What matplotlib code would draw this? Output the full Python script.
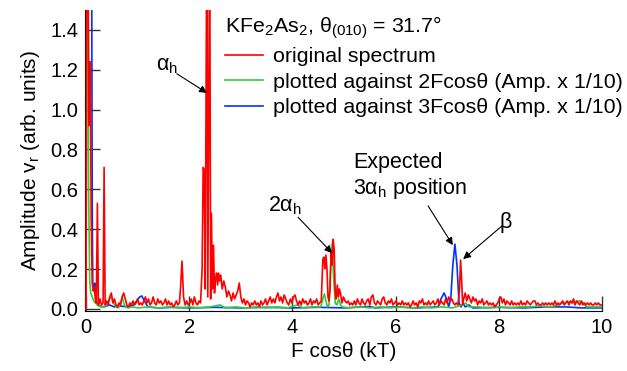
import numpy as np
import matplotlib
matplotlib.use("Agg")
import matplotlib.pyplot as plt

plt.rcParams['font.family'] = ['Liberation Sans', 'DejaVu Sans']
plt.rcParams['mathtext.fontset'] = 'custom'
plt.rcParams['mathtext.rm'] = 'Liberation Sans'
plt.rcParams['mathtext.it'] = 'Liberation Sans'

# original spectrum (x in kT, amplitude)
red_low = [(0.00, 0.00), (0.01, 1.60), (0.04, 1.60), (0.06, 0.92), (0.08, 1.24), (0.10, 0.45),
           (0.12, 0.13), (0.14, 0.09), (0.16, 0.11), (0.18, 0.05), (0.20, 0.03), (0.22, 0.53),
           (0.24, 0.02), (0.27, 0.05), (0.30, 0.02), (0.33, 0.03), (0.35, 0.71), (0.37, 0.02),
           (0.40, 0.04), (0.43, 0.02), (0.46, 0.06), (0.49, 0.08), (0.52, 0.03), (0.55, 0.05),
           (0.58, 0.02), (0.61, 0.01), (0.64, 0.03), (0.67, 0.02), (0.70, 0.06), (0.73, 0.08),
           (0.76, 0.05), (0.79, 0.02), (0.82, 0.01), (0.85, 0.03), (0.88, 0.02), (0.91, 0.04),
           (0.94, 0.02), (0.97, 0.03), (1.00, 0.05), (1.03, 0.02), (1.06, 0.03), (1.09, 0.02),
           (1.12, 0.04), (1.15, 0.06), (1.18, 0.03), (1.21, 0.05), (1.24, 0.02), (1.27, 0.03),
           (1.30, 0.06), (1.33, 0.03), (1.36, 0.02), (1.39, 0.05), (1.42, 0.03), (1.45, 0.04),
           (1.48, 0.02), (1.51, 0.03), (1.54, 0.05), (1.57, 0.02), (1.60, 0.04), (1.63, 0.02),
           (1.66, 0.03), (1.69, 0.01), (1.72, 0.02), (1.75, 0.04), (1.78, 0.02), (1.81, 0.03),
           (1.83, 0.10), (1.86, 0.24), (1.89, 0.06), (1.92, 0.02), (1.95, 0.04), (1.98, 0.02),
           (2.01, 0.03), (2.04, 0.05), (2.07, 0.02), (2.10, 0.06), (2.13, 0.03), (2.16, 0.02),
           (2.19, 0.04), (2.22, 0.03)]
red_alpha = [(2.25, 0.20), (2.27, 0.71), (2.29, 0.70), (2.31, 0.10), (2.335, 1.60), (2.345, 1.60),
             (2.36, 0.06), (2.39, 1.60), (2.40, 1.60), (2.415, 0.05), (2.43, 0.48), (2.45, 0.10),
             (2.47, 0.32), (2.49, 0.08), (2.51, 0.15), (2.53, 0.18), (2.55, 0.12), (2.57, 0.18),
             (2.59, 0.14), (2.61, 0.17), (2.64, 0.10), (2.67, 0.14), (2.70, 0.11), (2.73, 0.06),
             (2.76, 0.09), (2.79, 0.07), (2.82, 0.04), (2.85, 0.08), (2.88, 0.05), (2.91, 0.07),
             (2.94, 0.09), (2.97, 0.13)]
red_mid = [(3.00, 0.06), (3.03, 0.03), (3.06, 0.05), (3.09, 0.02), (3.12, 0.04), (3.15, 0.03),
           (3.18, 0.01), (3.21, 0.03), (3.24, 0.02), (3.27, 0.04), (3.30, 0.02), (3.33, 0.03),
           (3.36, 0.01), (3.39, 0.04), (3.42, 0.02), (3.45, 0.03), (3.48, 0.05), (3.51, 0.02),
           (3.54, 0.04), (3.57, 0.06), (3.60, 0.03), (3.63, 0.05), (3.66, 0.03), (3.69, 0.06),
           (3.72, 0.08), (3.75, 0.04), (3.78, 0.06), (3.81, 0.03), (3.84, 0.07), (3.87, 0.05),
           (3.90, 0.03), (3.93, 0.02), (3.96, 0.05), (3.99, 0.03), (4.02, 0.06), (4.05, 0.07),
           (4.08, 0.04), (4.11, 0.02), (4.14, 0.04), (4.17, 0.02), (4.20, 0.05), (4.23, 0.03),
           (4.26, 0.04), (4.29, 0.02), (4.32, 0.03), (4.35, 0.05), (4.38, 0.02), (4.41, 0.04),
           (4.44, 0.03), (4.47, 0.05), (4.50, 0.02), (4.53, 0.03), (4.56, 0.04)]
red_2alpha = [(4.59, 0.25), (4.61, 0.26), (4.63, 0.20), (4.65, 0.27), (4.67, 0.20), (4.69, 0.06),
              (4.71, 0.04), (4.73, 0.10), (4.75, 0.29), (4.77, 0.22), (4.79, 0.35), (4.81, 0.30),
              (4.83, 0.08), (4.85, 0.05), (4.87, 0.12), (4.89, 0.06), (4.91, 0.10), (4.93, 0.08)]
red_tail = [(4.96, 0.03), (4.99, 0.06), (5.02, 0.04), (5.05, 0.03), (5.08, 0.04), (5.11, 0.02),
            (5.14, 0.03), (5.17, 0.02), (5.20, 0.04), (5.23, 0.02), (5.26, 0.05), (5.29, 0.03),
            (5.32, 0.02), (5.35, 0.05), (5.38, 0.03), (5.41, 0.02), (5.44, 0.04), (5.47, 0.05),
            (5.50, 0.02), (5.53, 0.06), (5.56, 0.07), (5.59, 0.03), (5.62, 0.02), (5.65, 0.04),
            (5.68, 0.03), (5.71, 0.02), (5.74, 0.05), (5.77, 0.06), (5.80, 0.03), (5.83, 0.02),
            (5.86, 0.04), (5.89, 0.03), (5.92, 0.05), (5.95, 0.02), (5.98, 0.03), (6.01, 0.04),
            (6.04, 0.02), (6.07, 0.03), (6.10, 0.02), (6.13, 0.04), (6.16, 0.02), (6.19, 0.03),
            (6.22, 0.02), (6.25, 0.03), (6.28, 0.01), (6.31, 0.02), (6.34, 0.04), (6.37, 0.02),
            (6.40, 0.03), (6.43, 0.01), (6.46, 0.04), (6.49, 0.03), (6.52, 0.05), (6.55, 0.02),
            (6.58, 0.03), (6.61, 0.02), (6.64, 0.04), (6.67, 0.02), (6.70, 0.03), (6.73, 0.04),
            (6.76, 0.02), (6.79, 0.03), (6.82, 0.05), (6.85, 0.02), (6.88, 0.04), (6.91, 0.03),
            (6.94, 0.02), (6.97, 0.05), (7.00, 0.03), (7.03, 0.06), (7.06, 0.04), (7.09, 0.05),
            (7.12, 0.03), (7.15, 0.02), (7.18, 0.03), (7.21, 0.02)]
red_beta = [(7.24, 0.10), (7.26, 0.245), (7.28, 0.15), (7.30, 0.02), (7.32, 0.05), (7.35, 0.08),
            (7.38, 0.04), (7.41, 0.07), (7.44, 0.05), (7.47, 0.03), (7.50, 0.06), (7.53, 0.04),
            (7.56, 0.05), (7.59, 0.02), (7.62, 0.04), (7.65, 0.03), (7.68, 0.05), (7.71, 0.02),
            (7.74, 0.03), (7.77, 0.04), (7.80, 0.02), (7.83, 0.03), (7.86, 0.02), (7.89, 0.03),
            (7.92, 0.01), (7.95, 0.02), (7.98, 0.03)]
red_high = [(8.01, 0.05), (8.04, 0.06), (8.07, 0.03), (8.10, 0.05), (8.13, 0.02), (8.16, 0.04),
            (8.19, 0.03), (8.22, 0.02), (8.25, 0.04), (8.28, 0.02), (8.31, 0.03), (8.34, 0.02),
            (8.37, 0.03), (8.40, 0.02), (8.43, 0.04), (8.46, 0.02), (8.49, 0.03), (8.52, 0.02),
            (8.55, 0.04), (8.58, 0.03), (8.61, 0.02), (8.64, 0.03), (8.67, 0.04), (8.70, 0.04),
            (8.73, 0.02), (8.76, 0.03), (8.79, 0.02), (8.82, 0.02), (8.85, 0.03), (8.88, 0.02),
            (8.91, 0.03), (8.94, 0.02), (8.97, 0.03), (9.00, 0.02), (9.03, 0.03), (9.06, 0.02),
            (9.09, 0.04), (9.12, 0.02), (9.15, 0.03), (9.18, 0.02), (9.21, 0.03), (9.24, 0.04),
            (9.27, 0.02), (9.30, 0.03), (9.33, 0.04), (9.36, 0.02), (9.39, 0.04), (9.42, 0.03),
            (9.45, 0.05), (9.48, 0.02), (9.51, 0.04), (9.54, 0.03), (9.57, 0.02), (9.60, 0.04),
            (9.63, 0.02), (9.66, 0.03), (9.69, 0.02), (9.72, 0.03), (9.75, 0.02), (9.78, 0.03),
            (9.81, 0.02), (9.84, 0.02), (9.87, 0.03), (9.90, 0.02), (9.93, 0.03), (9.96, 0.02),
            (10.00, 0.02)]

# against 2Fcos(theta), amplitude x 1/10
green_pts = [(0.00, 0.00), (0.01, 1.60), (0.03, 1.60), (0.05, 0.60), (0.07, 0.15), (0.09, 0.08),
             (0.12, 0.06), (0.15, 0.04), (0.18, 0.03), (0.22, 0.02), (0.28, 0.01), (0.35, 0.01),
             (0.40, 0.02), (0.45, 0.05), (0.49, 0.06), (0.53, 0.03), (0.58, 0.01), (0.63, 0.005),
             (0.67, 0.03), (0.70, 0.06), (0.74, 0.02), (0.80, 0.005), (0.90, 0.01), (1.00, 0.005),
             (1.20, 0.01), (1.40, 0.005), (1.60, 0.01), (1.80, 0.005), (2.00, 0.01), (2.20, 0.005),
             (2.40, 0.01), (2.60, 0.02), (2.70, 0.005), (2.90, 0.01), (3.10, 0.005), (3.30, 0.01),
             (3.50, 0.005), (3.70, 0.01), (3.90, 0.005), (4.10, 0.02), (4.20, 0.005), (4.40, 0.01),
             (4.55, 0.01), (4.59, 0.05), (4.62, 0.075), (4.65, 0.04), (4.68, 0.01), (4.71, 0.02),
             (4.74, 0.20), (4.77, 0.33), (4.80, 0.15), (4.83, 0.03), (4.86, 0.02), (4.90, 0.05),
             (4.93, 0.02), (4.97, 0.01), (5.10, 0.005), (5.30, 0.01), (5.50, 0.005), (5.70, 0.01),
             (5.90, 0.005), (6.10, 0.01), (6.30, 0.005), (6.50, 0.01), (6.70, 0.005), (6.90, 0.01),
             (7.10, 0.005), (7.30, 0.02), (7.36, 0.03), (7.42, 0.01), (7.60, 0.01), (7.80, 0.005),
             (8.00, 0.01), (8.20, 0.005), (8.40, 0.01), (8.60, 0.01), (8.80, 0.015), (9.00, 0.01),
             (9.15, 0.02), (9.25, 0.03), (9.35, 0.035), (9.45, 0.03), (9.55, 0.04), (9.62, 0.035),
             (9.70, 0.01), (9.85, 0.01), (10.00, 0.01)]

# against 3Fcos(theta), amplitude x 1/10
blue_pts = [(0.00, 0.00), (0.01, 1.60), (0.11, 1.60), (0.12, 0.50), (0.13, 0.13), (0.15, 0.10),
            (0.17, 0.13), (0.19, 0.05), (0.22, 0.02), (0.26, 0.015), (0.35, 0.01), (0.45, 0.02),
            (0.55, 0.01), (0.65, 0.015), (0.80, 0.01), (0.92, 0.02), (0.98, 0.04), (1.04, 0.06),
            (1.08, 0.065), (1.13, 0.04), (1.20, 0.01), (1.40, 0.005), (1.70, 0.008), (2.00, 0.005),
            (2.50, 0.008), (3.00, 0.005), (3.50, 0.008), (4.00, 0.005), (4.50, 0.008), (5.00, 0.005),
            (5.50, 0.012), (5.60, 0.005), (6.00, 0.01), (6.40, 0.005), (6.82, 0.01), (6.88, 0.05),
            (6.94, 0.08), (6.99, 0.05), (7.03, 0.01), (7.07, 0.05), (7.11, 0.22), (7.15, 0.325),
            (7.19, 0.22), (7.23, 0.03), (7.27, 0.01), (7.31, 0.03), (7.35, 0.01), (7.42, 0.02),
            (7.50, 0.005), (8.00, 0.008), (8.50, 0.005), (8.90, 0.01), (9.30, 0.01), (9.60, 0.005),
            (10.00, 0.005)]

red = np.array(red_low + red_alpha + red_mid + red_2alpha + red_tail + red_beta + red_high)
green = np.array(green_pts)
blue = np.array(blue_pts)

fig = plt.figure(figsize=(6.27, 3.71), dpi=100)
ax = fig.add_axes([0.1356, 0.162, 0.8244, 0.811])

ax.plot(red[:, 0], red[:, 1], color='#ff0000', lw=1.2, label='original spectrum', zorder=3)
ax.plot(green[:, 0], green[:, 1], color='#33cc33', lw=1.2,
        label='plotted against 2Fcosθ (Amp. x 1/10)', zorder=2)
ax.plot(blue[:, 0], blue[:, 1], color='#0033ff', lw=1.2,
        label='plotted against 3Fcosθ (Amp. x 1/10)', zorder=1)

ax.set_xlim(-0.02, 10.0)
ax.set_ylim(-0.01, 1.5)
ax.set_xticks([0, 2, 4, 6, 8, 10])
ax.set_yticks(np.arange(0, 1.41, 0.2))
ax.set_yticklabels(['%.1f' % v for v in np.arange(0, 1.41, 0.2)])
ax.tick_params(direction='in', length=11, width=1, color='#333333', labelsize=14.5, pad=5)
for s in ['top', 'right']:
    ax.spines[s].set_visible(False)

ax.set_xlabel('F cosθ (kT)', fontsize=15, labelpad=4)
ax.set_ylabel('Amplitude v$_\\mathrm{r}$ (arb. units)', fontsize=15, labelpad=6)

leg = ax.legend(loc='upper left', bbox_to_anchor=(0.262, 1.0), frameon=False, fontsize=15.4,
                title='KFe$_2$As$_2$, θ$_{(010)}$ = 31.7°', title_fontsize=15.4,
                handlelength=1.8, handletextpad=0.45, labelspacing=0.3, borderaxespad=0.0,
                borderpad=0.2)
leg._legend_box.align = 'left'

arw = dict(arrowstyle='-|>', color='black', lw=0.8, mutation_scale=11, shrinkA=0, shrinkB=0)
ax.text(1.35, 1.22, 'α$_\\mathrm{h}$', fontsize=15.5, va='center', ha='left')
ax.annotate('', xy=(2.345, 1.084), xytext=(1.76, 1.18), arrowprops=arw)
ax.text(3.53, 0.52, '2α$_\\mathrm{h}$', fontsize=15.5, va='center', ha='left')
ax.annotate('', xy=(4.77, 0.28), xytext=(4.11, 0.46), arrowprops=arw)
ax.text(5.17, 0.785, 'Expected\n3α$_\\mathrm{h}$ position', fontsize=15.5, va='top', ha='left',
        linespacing=1.15)
ax.annotate('', xy=(7.11, 0.32), xytext=(6.63, 0.517), arrowprops=arw)
ax.text(8.02, 0.435, 'β', fontsize=15.5, va='center', ha='left')
ax.annotate('', xy=(7.31, 0.25), xytext=(8.06, 0.416), arrowprops=arw)

fig.savefig('out.png', dpi=100)
